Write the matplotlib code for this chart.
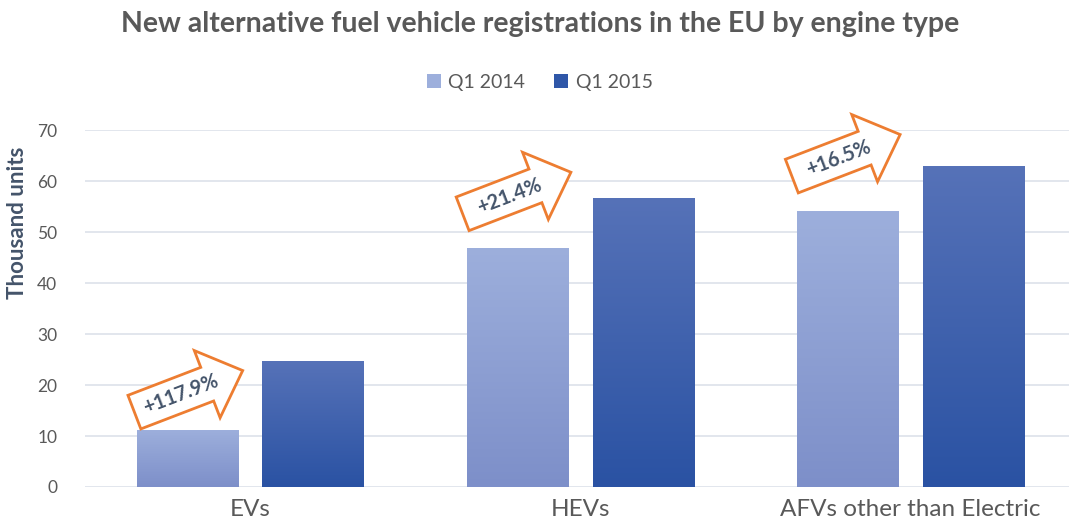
import numpy as np
import matplotlib.pyplot as plt
from matplotlib.colors import LinearSegmentedColormap
from matplotlib.patches import Polygon
from matplotlib.transforms import Affine2D

categories = ["EVs", "HEVs", "AFVs other than Electric"]
series_names = ["Q1 2014", "Q1 2015"]
q1_2014 = [11.2, 46.9, 54.1]
q1_2015 = [24.7, 56.7, 62.9]
growth_labels = ["+117.9%", "+21.4%", "+16.5%"]
# where each growth arrow sits (data coords)
label_pos = [(-0.209, 18.2), (0.785, 57.1), (1.782, 64.5)]

plt.rcParams['font.family'] = ['Lato', 'DejaVu Sans']

fig = plt.figure(figsize=(10.69, 5.31), dpi=100)
ax = fig.add_axes([0.0795, 0.0829, 0.9205, 0.672])

x = np.arange(len(categories))
w = 0.306
off = 0.19

grad_2014 = LinearSegmentedColormap.from_list("g14", ["#7d8fc9", "#9dafdc"])
grad_2015 = LinearSegmentedColormap.from_list("g15", ["#2a52a3", "#5672b8"])

bars1 = ax.bar(x - off, q1_2014, w, color="#9dafdc", label=series_names[0], zorder=2)
bars2 = ax.bar(x + off, q1_2015, w, color="#2f57a8", label=series_names[1], zorder=2)

grad = np.linspace(0, 1, 256).reshape(-1, 1)
for bars, cmap in [(bars1, grad_2014), (bars2, grad_2015)]:
    for b in bars:
        x0, h = b.get_x(), b.get_height()
        im = ax.imshow(grad, cmap=cmap, origin="lower", aspect="auto",
                       extent=[x0, x0 + b.get_width(), 0, h], zorder=3)
        im.set_clip_path(b)

ax.set_xlim(-0.5, 2.48)
ax.set_ylim(0, 70)
ax.set_yticks(range(0, 71, 10))
ax.grid(axis="y", color="#dde1ea", linewidth=1.2, zorder=0)
ax.set_axisbelow(True)
for s in ax.spines.values():
    s.set_visible(False)
ax.tick_params(axis="both", length=0, colors="#595959")
ax.tick_params(axis="y", labelsize=12.5, pad=20)
ax.set_xticks(x)
ax.set_xticklabels(categories, fontsize=17.5)
ax.tick_params(axis="x", pad=9)
ax.set_ylabel("Thousand units", fontsize=16, fontweight="bold", color="#44546a")
ax.yaxis.set_label_coords(-0.058, 0.74)

# block arrow outline, in pixels, text centre at origin
arrow_shape = np.array([[-50, -18], [28, -18], [28, -36], [66, 0],
                        [28, 36], [28, 18], [-50, 18]])
angle = 21
for lbl, (px, py) in zip(growth_labels, label_pos):
    cx, cy = ax.transData.transform((px, py))
    tr = Affine2D().rotate_deg(angle).translate(cx, cy)
    ax.add_patch(Polygon(arrow_shape, closed=True, facecolor="white",
                         edgecolor="#ed7d31", linewidth=2, transform=tr,
                         zorder=5, clip_on=False))
    ax.text(px, py, lbl, rotation=angle, rotation_mode="anchor", ha="center",
            va="center", fontsize=14.5, fontweight="bold", color="#44546a", zorder=6)

fig.text(0.505, 0.955, "New alternative fuel vehicle registrations in the EU by engine type",
         ha="center", va="center", fontsize=20.5, fontweight="bold", color="#595959")

leg = fig.legend(handles=[bars1, bars2], labels=series_names, loc="center",
                 bbox_to_anchor=(0.505, 0.845), ncol=2, frameon=False, fontsize=14,
                 handlelength=0.7, handleheight=0.7, columnspacing=1.5, handletextpad=0.4)
for t in leg.get_texts():
    t.set_color("#595959")

fig.savefig("out.png", dpi=100)
